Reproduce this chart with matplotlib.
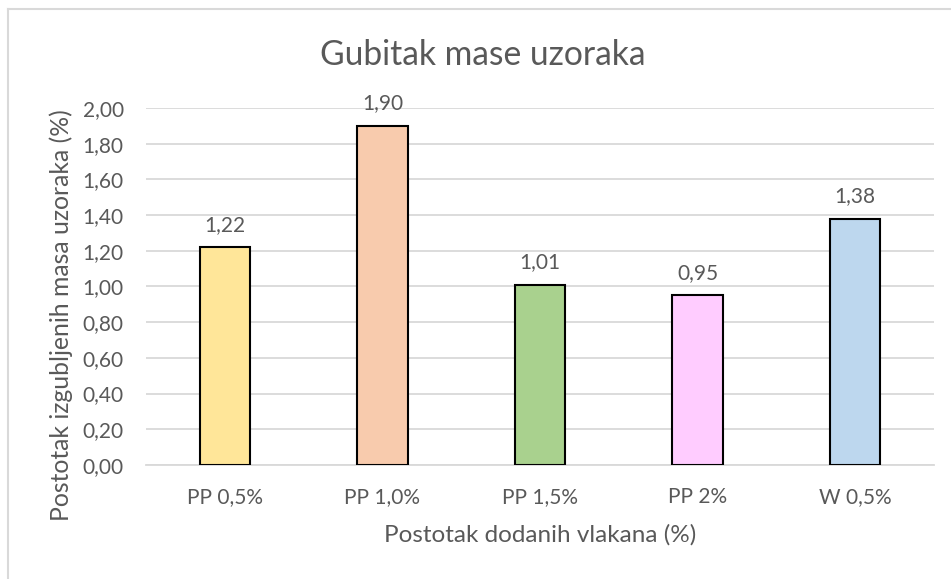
import matplotlib
matplotlib.use("Agg")
import matplotlib.pyplot as plt
from matplotlib.lines import Line2D
from matplotlib.ticker import FuncFormatter

plt.rcParams['font.family'] = ['Lato', 'DejaVu Sans']

categories = ['PP 0,5%', 'PP 1,0%', 'PP 1,5%', 'PP 2%', 'W 0,5%']
values = [1.22, 1.90, 1.01, 0.95, 1.38]
colors = ['#FFE699', '#F8CBAD', '#A9D18E', '#FFCCFF', '#BDD7EE']
yticks = [0.0, 0.2, 0.4, 0.6, 0.8, 1.0, 1.2, 1.4, 1.6, 1.8, 2.0]

text_gray = '#595959'
grid_gray = '#D9D9D9'

fig = plt.figure(figsize=(9.51, 5.79), dpi=100)
ax = fig.add_axes([0.1535, 0.197, 0.8285, 0.6165])

x = range(len(categories))
bars = ax.bar(x, values, width=0.32, color=colors, edgecolor='black', linewidth=1.5, zorder=3)

for xi, v in zip(x, values):
    ax.annotate(f"{v:.2f}".replace('.', ','), (xi, v), xytext=(0, 9),
                textcoords='offset points', ha='center', va='bottom',
                fontsize=15, color=text_gray)

ax.set_xlim(-0.5, len(categories) - 0.5)
ax.set_ylim(0, 2.0)
ax.set_yticks(yticks)
ax.yaxis.set_major_formatter(FuncFormatter(lambda v, p: f"{v:.2f}".replace('.', ',')))
ax.set_xticks(list(x))
ax.set_xticklabels(categories)
ax.tick_params(axis='both', length=0, labelsize=15, labelcolor=text_gray)
ax.tick_params(axis='x', pad=16)
ax.tick_params(axis='y', pad=16)

ax.grid(axis='y', color=grid_gray, linewidth=1.3, zorder=0)
for s in ['top', 'right', 'left']:
    ax.spines[s].set_visible(False)
ax.spines['bottom'].set_color(grid_gray)
ax.spines['bottom'].set_linewidth(1.3)

fig.text(483 / 951, 1 - 55 / 579, 'Gubitak mase uzoraka', fontsize=24.2,
         color=text_gray, ha='center', va='center')
ax.set_xlabel('Postotak dodanih vlakana (%)', fontsize=17.5, color=text_gray, labelpad=12)
ax.set_ylabel('Postotak izgubljenih masa uzoraka (%)', fontsize=17.8, color=text_gray)
ax.yaxis.set_label_coords(-0.0926, 0.42)

# outer chart frame (only top and left edges visible in the crop)
fig.add_artist(Line2D([8 / 951, 1], [1 - 8.5 / 579, 1 - 8.5 / 579], color=grid_gray, linewidth=1.5))
fig.add_artist(Line2D([7.5 / 951, 7.5 / 951], [0, 1 - 8.5 / 579], color=grid_gray, linewidth=1.5))

fig.savefig('out.png', dpi=100)
